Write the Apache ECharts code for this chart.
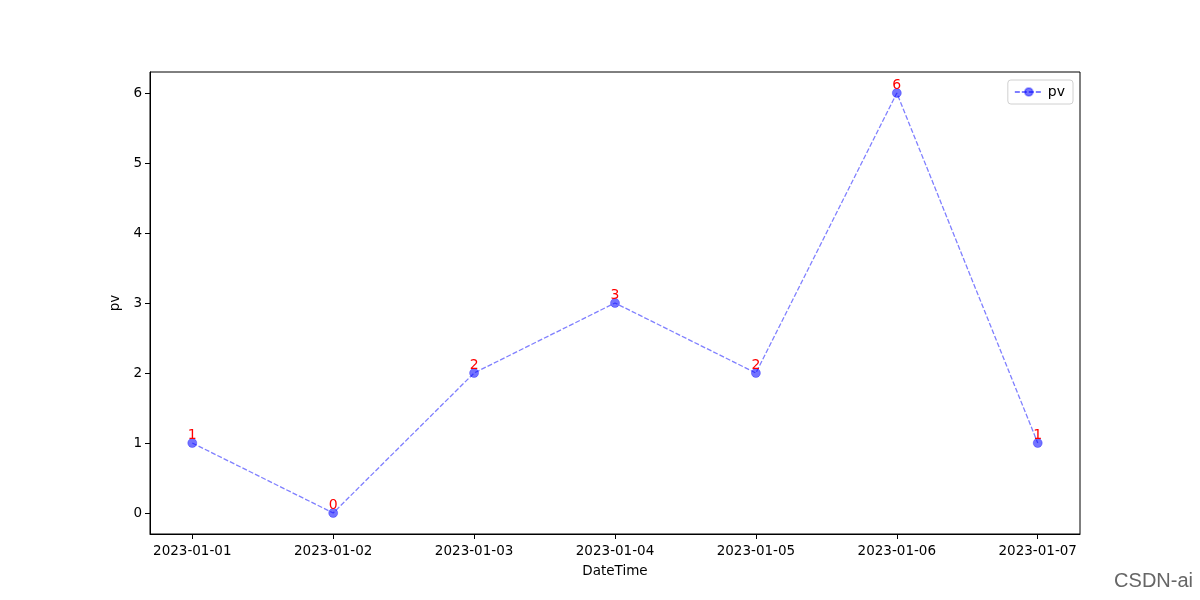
<!DOCTYPE html>
<html>
<head>
<meta charset="utf-8">
<script src="https://cdn.jsdelivr.net/npm/echarts@6/dist/echarts.min.js"></script>
<style>html,body{margin:0;padding:0;background:#fff}#c{width:1200px;height:600px}</style>
</head>
<body>
<div id="c"></div>
<script>
const categories = ['2023-01-01','2023-01-02','2023-01-03','2023-01-04','2023-01-05','2023-01-06','2023-01-07'];
const pvValues = [1, 0, 2, 3, 2, 6, 1];
const yTicks = [0, 1, 2, 3, 4, 5, 6];

const xIdx = categories.map((_, i) => i);
const seriesData = pvValues.map((v, i) => [i, v]);
const font = 'DejaVu Sans';

const chart = echarts.init(document.getElementById('c'));
chart.setOption({
  animation: false,
  backgroundColor: '#fff',
  grid: { left: 150, right: 120, top: 72, bottom: 66, show: true, borderColor: '#000', borderWidth: 1, backgroundColor: 'transparent' },
  legend: {
    right: 127, top: 80, orient: 'vertical',
    padding: [5, 8, 5, 6],
    borderColor: '#d0d0d0', borderWidth: 1, borderRadius: 3,
    itemWidth: 28, itemHeight: 10, itemGap: 6,
    textStyle: { fontFamily: font, fontSize: 14, color: '#000' },
    data: ['pv']
  },
  xAxis: {
    type: 'value', min: -0.3, max: 6.3,
    name: 'DateTime', nameLocation: 'middle', nameGap: 30,
    nameTextStyle: { fontFamily: font, fontSize: 13.5, color: '#000' },
    splitLine: { show: false },
    axisLine: { show: true, onZero: false, lineStyle: { color: '#000' } },
    axisTick: { show: true, length: 5, lineStyle: { color: '#000' }, customValues: xIdx },
    axisLabel: { fontFamily: font, fontSize: 13.5, color: '#000', margin: 10, customValues: xIdx, formatter: v => categories[Math.round(v)] }
  },
  yAxis: {
    type: 'value', min: -0.3, max: 6.3,
    name: 'pv', nameLocation: 'middle', nameGap: 26, nameRotate: 90,
    nameTextStyle: { fontFamily: font, fontSize: 13.5, color: '#000' },
    splitLine: { show: false },
    axisLine: { show: true, onZero: false, lineStyle: { color: '#000' } },
    axisTick: { show: true, length: 5, lineStyle: { color: '#000' }, customValues: yTicks },
    axisLabel: { fontFamily: font, fontSize: 13.5, color: '#000', margin: 8, customValues: yTicks }
  },
  series: [{
    name: 'pv', type: 'line', data: seriesData,
    symbol: 'circle', symbolSize: 9,
    lineStyle: { color: 'rgba(0,0,255,0.5)', width: 1.3, type: [5, 2] },
    itemStyle: { color: 'rgba(0,0,255,0.55)', borderColor: 'rgba(0,0,255,0.3)', borderWidth: 1 },
    label: {
      show: true, position: 'inside', verticalAlign: 'bottom', offset: [0, -1],
      color: '#ff0000', fontFamily: font, fontSize: 14,
      formatter: p => String(p.value[1])
    }
  }],
  graphic: [{
    type: 'text', right: 7, bottom: 9,
    style: { text: 'CSDN-ai', fontFamily: 'Liberation Sans', fontSize: 20, fill: '#666' }
  }]
});
</script>
</body>
</html>
